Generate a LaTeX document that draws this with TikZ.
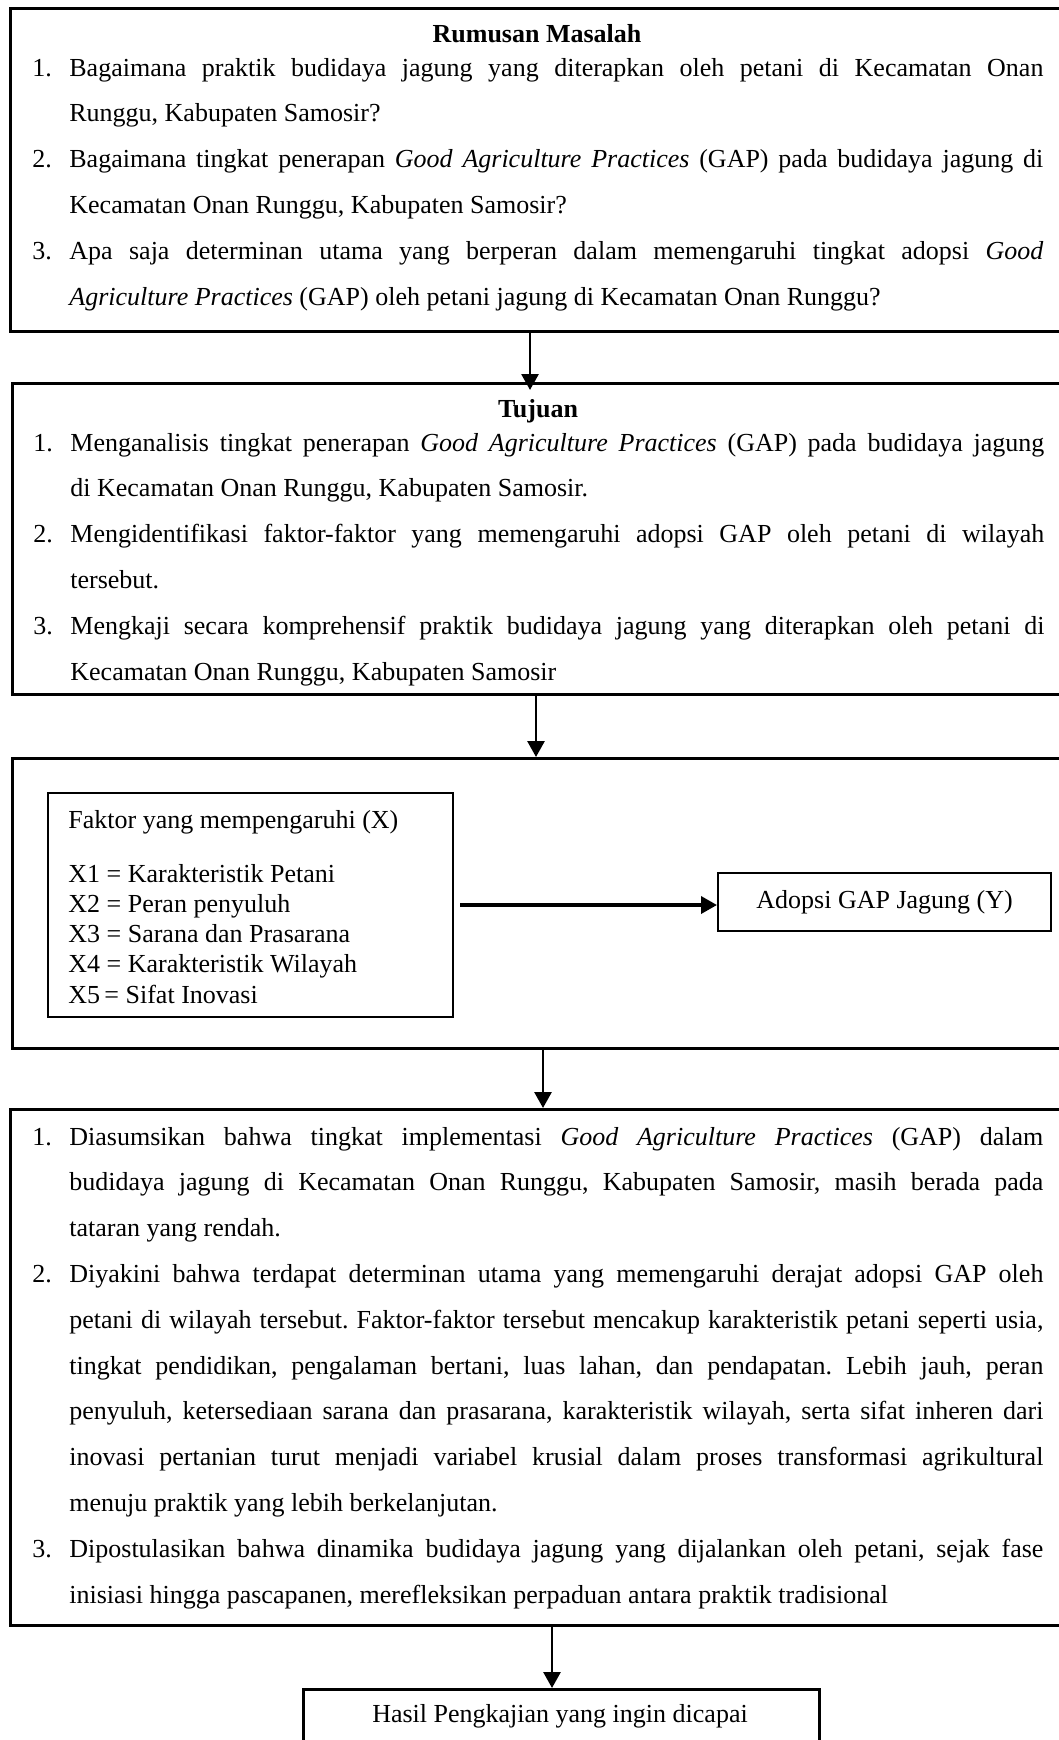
\documentclass[tikz,border=0pt]{standalone}
\usepackage{fontspec}
\setmainfont{Liberation Serif}
\usetikzlibrary{arrows.meta}
\frenchspacing
\newcommand{\itm}[2]{\noindent\hangindent=18.5pt\hangafter=1\makebox[18.5pt][l]{#1.}#2\par}
\newcommand{\lst}[1]{\parbox[t]{505.5pt}{\fontsize{13}{22.9}\selectfont\frenchspacing\tolerance=10000\hyphenpenalty=10000\exhyphenpenalty=10000\parskip=0pt #1}}
\begin{document}
\begin{tikzpicture}[x=0.5pt,y=-0.5pt,
  bigbox/.style={draw,line width=1.3pt,rectangle,anchor=north west,inner sep=0pt},
  smallbox/.style={draw,line width=1.1pt,rectangle,anchor=north west,inner sep=0pt},
  txt/.style={inner sep=0pt,font=\fontsize{13}{15.15}\selectfont},
  flow/.style={-{Triangle[length=8pt,width=8.5pt]},line width=1.4pt},
  flowthick/.style={-{Triangle[length=8pt,width=8.5pt]},line width=1.8pt}]
\useasboundingbox (0,0) rectangle (1059,1740);
\clip (0,0) rectangle (1059,1740);
\fill[white] (0,0) rectangle (1059,1740);

% boxes
\node[bigbox,minimum width=533pt,minimum height=161.5pt] (box1) at (9,7) {};
\node[bigbox,minimum width=532pt,minimum height=155.5pt] (box2) at (11,382) {};
\node[bigbox,minimum width=532pt,minimum height=145pt] (box3) at (11,757) {};
\node[bigbox,minimum width=533pt,minimum height=258pt] (box4) at (9,1108) {};
\node[bigbox,minimum width=258pt,minimum height=41pt] (box5) at (302,1688) {};
\node[smallbox,minimum width=202.5pt,minimum height=112pt] (xbox) at (47,792) {};
\node[smallbox,minimum width=166.5pt,minimum height=29pt,font=\fontsize{13}{15.15}\selectfont] (ybox) at (717,872) {Adopsi GAP Jagung (Y)};

% box 1
\node[txt,anchor=base] (t1) at (537,42) {\textbf{Rumusan Masalah}};
\node[inner sep=0pt,anchor=base west] (list1) at (32,76) {\lst{%
\itm{1}{Bagaimana praktik budidaya jagung yang diterapkan oleh petani di Kecamatan Onan\linebreak Runggu, Kabupaten Samosir?}%
\itm{2}{Bagaimana tingkat penerapan \textit{Good Agriculture Practices} (GAP) pada budidaya jagung di\linebreak Kecamatan Onan Runggu, Kabupaten Samosir?}%
\itm{3}{Apa saja determinan utama yang berperan dalam memengaruhi tingkat adopsi \textit{Good}\linebreak \textit{Agriculture Practices} (GAP) oleh petani jagung di Kecamatan Onan Runggu?}}};

% box 2
\node[txt,anchor=base] (t2) at (538,417) {\textbf{Tujuan}};
\node[inner sep=0pt,anchor=base west] (list2) at (33,451) {\lst{%
\itm{1}{Menganalisis tingkat penerapan \textit{Good Agriculture Practices} (GAP) pada budidaya jagung\linebreak di Kecamatan Onan Runggu, Kabupaten Samosir.}%
\itm{2}{Mengidentifikasi faktor-faktor yang memengaruhi adopsi GAP oleh petani di wilayah\linebreak tersebut.}%
\itm{3}{Mengkaji secara komprehensif praktik budidaya jagung yang diterapkan oleh petani di\linebreak Kecamatan Onan Runggu, Kabupaten Samosir}}};

% box 3
\node[txt,anchor=base west] (xtext) at (68,828) {\parbox[t]{190pt}{\noindent Faktor yang mempengaruhi (X)\\[11.85pt]
X1 = Karakteristik Petani\\
X2 = Peran penyuluh\\
X3 = Sarana dan Prasarana\\
X4 = Karakteristik Wilayah\\
X5\,= Sifat Inovasi}};

% box 4
\node[inner sep=0pt,anchor=base west] (list4) at (32,1145) {\lst{%
\itm{1}{Diasumsikan bahwa tingkat implementasi \textit{Good Agriculture Practices} (GAP) dalam\linebreak budidaya jagung di Kecamatan Onan Runggu, Kabupaten Samosir, masih berada pada\linebreak tataran yang rendah.}%
\itm{2}{Diyakini bahwa terdapat determinan utama yang memengaruhi derajat adopsi GAP oleh\linebreak petani di wilayah tersebut. Faktor-faktor tersebut mencakup karakteristik petani seperti usia,\linebreak tingkat pendidikan, pengalaman bertani, luas lahan, dan pendapatan. Lebih jauh, peran\linebreak penyuluh, ketersediaan sarana dan prasarana, karakteristik wilayah, serta sifat inheren dari\linebreak inovasi pertanian turut menjadi variabel krusial dalam proses transformasi agrikultural\linebreak menuju praktik yang lebih berkelanjutan.}%
\itm{3}{Dipostulasikan bahwa dinamika budidaya jagung yang dijalankan oleh petani, sejak fase\linebreak inisiasi hingga pascapanen, merefleksikan perpaduan antara praktik tradisional}}};

% box 5
\node[txt,anchor=base] (t5) at (560,1722) {Hasil Pengkajian yang ingin dicapai};

% connectors
\coordinate (a1) at (530,0);
\coordinate (a2) at (536,0);
\coordinate (a3) at (543,0);
\coordinate (a4) at (552,0);
\draw[flow,shorten >=-4pt] (box1.south -| a1) -- (box2.north -| a1);
\draw[flow] (box2.south -| a2) -- (box3.north -| a2);
\draw[flow] (box3.south -| a3) -- (box4.north -| a3);
\draw[flow] (box4.south -| a4) -- (box5.north -| a4);
\coordinate (xa) at (460,905);
\draw[flowthick] (xa) -- (xa -| ybox.west);
\end{tikzpicture}
\end{document}
